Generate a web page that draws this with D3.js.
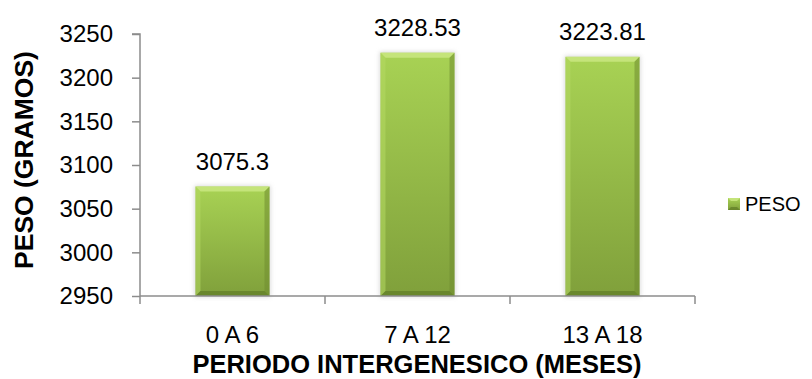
<!DOCTYPE html>
<html>
<head>
<meta charset="utf-8">
<script src="https://cdn.jsdelivr.net/npm/d3@7/dist/d3.min.js"></script>
<style>
  html, body { margin: 0; padding: 0; background: #fff; }
  svg { display: block; font-family: "Liberation Sans", Arial, sans-serif; }
</style>
</head>
<body>
<svg id="chart" width="812" height="379"></svg>
<script>
// Birth weight by inter-pregnancy interval
const categories = ["0 A 6", "7 A 12", "13 A 18"];
const pesoValues = [3075.3, 3228.53, 3223.81];
const valueLabels = ["3075.3", "3228.53", "3223.81"];
const yTicks = [2950, 3000, 3050, 3100, 3150, 3200, 3250];
const seriesName = "PESO";
const xTitle = "PERIODO INTERGENESICO (MESES)";
const yTitle = "PESO (GRAMOS)";

const svg = d3.select("#chart");
const plot = { left: 140, right: 695, top: 34, bottom: 296 };

const x = d3.scaleBand()
  .domain(categories)
  .range([plot.left, plot.right])
  .paddingInner(0.6)
  .paddingOuter(0.3);

const y = d3.scaleLinear()
  .domain([2950, 3250])
  .range([plot.bottom, plot.top]);

const defs = svg.append("defs");
const grad = defs.append("linearGradient")
  .attr("id", "barFill").attr("x1", 0).attr("y1", 0).attr("x2", 0).attr("y2", 1);
grad.append("stop").attr("offset", "0%").attr("stop-color", "#a8d254");
grad.append("stop").attr("offset", "100%").attr("stop-color", "#80a03b");

const shadow = defs.append("filter").attr("id", "soft")
  .attr("x", "-20%").attr("y", "-10%").attr("width", "140%").attr("height", "120%");
shadow.append("feGaussianBlur").attr("stdDeviation", 2.2);

// Axes
const axisColor = "#8c8c8c";
const labelSize = 24;
const yAxis = svg.append("g")
  .attr("transform", `translate(${plot.left},0)`)
  .call(d3.axisLeft(y).tickValues(yTicks).tickSize(8).tickPadding(19).tickFormat(d3.format("d")));
yAxis.select(".domain").attr("stroke", axisColor).attr("stroke-width", 1.5)
  .attr("d", `M-8,${plot.top}H0V${plot.bottom}`);
yAxis.selectAll(".tick line").attr("stroke", axisColor).attr("stroke-width", 1.5);
yAxis.selectAll(".tick text").attr("font-size", labelSize).attr("fill", "#000");

// Bars with bevelled edges
const bars = svg.append("g");
const bevel = 5;
categories.forEach((c, i) => {
  const x0 = x(c), w = x.bandwidth();
  const y0 = y(pesoValues[i]), y1 = y(2950);
  bars.append("rect")
    .attr("x", x0 - 1).attr("y", y0 - 1).attr("width", w + 2).attr("height", y1 - y0 + 2)
    .attr("fill", "#bcbcbc").attr("opacity", 0.55).attr("filter", "url(#soft)");
  bars.append("rect")
    .attr("x", x0).attr("y", y0).attr("width", w).attr("height", y1 - y0)
    .attr("fill", "url(#barFill)");
  const x1 = x0 + w;
  const facets = [
    { pts: [[x0, y0], [x1, y0], [x1 - bevel, y0 + bevel], [x0 + bevel, y0 + bevel]], fill: "#c8e67e", op: 0.9 },
    { pts: [[x0, y0], [x0 + bevel, y0 + bevel], [x0 + bevel, y1 - bevel], [x0, y1]], fill: "#b5d962", op: 0.55 },
    { pts: [[x1, y0], [x1 - bevel, y0 + bevel], [x1 - bevel, y1 - bevel], [x1, y1]], fill: "#6f8d30", op: 0.55 },
    { pts: [[x0, y1], [x0 + bevel, y1 - bevel], [x1 - bevel, y1 - bevel], [x1, y1]], fill: "#5f7c26", op: 0.7 }
  ];
  facets.forEach(f => {
    bars.append("polygon")
      .attr("points", f.pts.map(p => p.join(",")).join(" "))
      .attr("fill", f.fill).attr("opacity", f.op);
  });
  bars.append("text")
    .attr("x", x0 + w / 2).attr("y", y0 - 17)
    .attr("text-anchor", "middle").attr("font-size", labelSize).attr("fill", "#000")
    .text(valueLabels[i]);
});

// X axis drawn over bar bottoms
const xAxisLine = svg.append("g");
xAxisLine.append("line")
  .attr("x1", plot.left).attr("x2", plot.right).attr("y1", plot.bottom).attr("y2", plot.bottom)
  .attr("stroke", axisColor).attr("stroke-width", 1.5);
const tickXs = [plot.left].concat(categories.map(c => x(c) + x.bandwidth() + x.step() * x.paddingOuter()));
tickXs.forEach(tx => {
  xAxisLine.append("line")
    .attr("x1", tx).attr("x2", tx).attr("y1", plot.bottom).attr("y2", plot.bottom + 8)
    .attr("stroke", axisColor).attr("stroke-width", 1.5);
});
categories.forEach(c => {
  xAxisLine.append("text")
    .attr("x", x(c) + x.bandwidth() / 2).attr("y", 343)
    .attr("text-anchor", "middle").attr("font-size", labelSize).attr("fill", "#000")
    .text(c);
});

// Axis titles
svg.append("text")
  .attr("x", 417).attr("y", 373)
  .attr("text-anchor", "middle").attr("font-size", 25.5).attr("font-weight", "bold").attr("fill", "#000")
  .text(xTitle);
svg.append("text")
  .attr("transform", `translate(33,160) rotate(-90)`)
  .attr("text-anchor", "middle").attr("font-size", 26.5).attr("font-weight", "bold").attr("fill", "#000")
  .text(yTitle);

// Legend
const legend = svg.append("g").attr("transform", "translate(728,198)");
legend.append("rect").attr("width", 12).attr("height", 12).attr("fill", "url(#barFill)");
legend.append("polygon").attr("points", "0,0 12,0 9,3 3,3").attr("fill", "#c8e67e").attr("opacity", 0.9);
legend.append("polygon").attr("points", "0,12 3,9 9,9 12,12").attr("fill", "#5f7c26").attr("opacity", 0.7);
legend.append("text").attr("x", 17).attr("y", 12.5).attr("font-size", 20).attr("fill", "#000").text(seriesName);
</script>
</body>
</html>
